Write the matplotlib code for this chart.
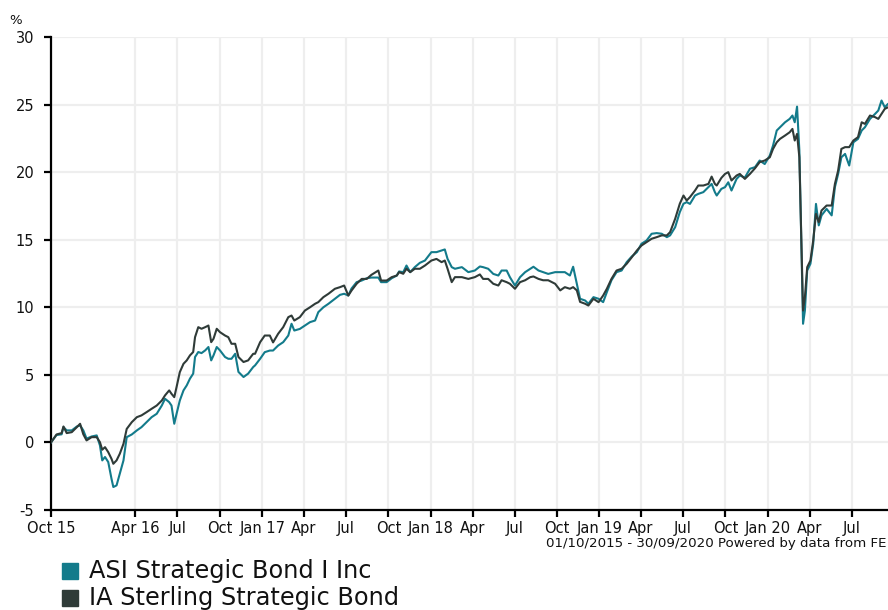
import matplotlib
matplotlib.use("Agg")
import matplotlib.pyplot as plt
from matplotlib.patches import Rectangle
import pandas as pd

plt.rcParams['font.family'] = ['DejaVu Sans']

series_names = ["ASI Strategic Bond I Inc", "IA Sterling Strategic Bond"]

dates = [
    "2015-10-01", "2015-10-13", "2015-10-24", "2015-10-28", "2015-11-04", "2015-11-15",
    "2015-11-26", "2015-12-03", "2015-12-10", "2015-12-17", "2015-12-28", "2016-01-08",
    "2016-01-15", "2016-01-20", "2016-01-26", "2016-02-02", "2016-02-09", "2016-02-13",
    "2016-02-20", "2016-02-27", "2016-03-06", "2016-03-13", "2016-03-24", "2016-04-04",
    "2016-04-14", "2016-04-25", "2016-05-06", "2016-05-17", "2016-05-28", "2016-06-04",
    "2016-06-13", "2016-06-18", "2016-06-24", "2016-06-29", "2016-07-06", "2016-07-14",
    "2016-07-21", "2016-07-28", "2016-08-04", "2016-08-08", "2016-08-15", "2016-08-22",
    "2016-08-30", "2016-09-06", "2016-09-12", "2016-09-17", "2016-09-24", "2016-10-01",
    "2016-10-12", "2016-10-19", "2016-10-26", "2016-11-03", "2016-11-10", "2016-11-21",
    "2016-12-01", "2016-12-12",
    "2016-12-16", "2016-12-27", "2017-01-06", "2017-01-17", "2017-01-24", "2017-02-04",
    "2017-02-15", "2017-02-26", "2017-03-05", "2017-03-11", "2017-03-23", "2017-04-03",
    "2017-04-14", "2017-04-25", "2017-05-02", "2017-05-13", "2017-05-24", "2017-06-07",
    "2017-06-18", "2017-06-27", "2017-07-06", "2017-07-13", "2017-07-24", "2017-08-04",
    "2017-08-15", "2017-08-25", "2017-09-09", "2017-09-15", "2017-09-27", "2017-10-08",
    "2017-10-19", "2017-10-24", "2017-11-02", "2017-11-09", "2017-11-17", "2017-11-27",
    "2017-12-08", "2017-12-19", "2018-01-02", "2018-01-13", "2018-01-24", "2018-01-31",
    "2018-02-06", "2018-02-15", "2018-02-22", "2018-03-09", "2018-03-23",
    "2018-04-06", "2018-04-17", "2018-04-24", "2018-05-05", "2018-05-16", "2018-05-27",
    "2018-06-03", "2018-06-14", "2018-06-21", "2018-07-02", "2018-07-13", "2018-07-24",
    "2018-08-04", "2018-08-11", "2018-08-22", "2018-09-01", "2018-09-12", "2018-09-27",
    "2018-10-08", "2018-10-18", "2018-10-29", "2018-11-05", "2018-11-13", "2018-11-20",
    "2018-12-01", "2018-12-08", "2018-12-19", "2018-12-30", "2019-01-09", "2019-01-17",
    "2019-01-27", "2019-02-07", "2019-02-18", "2019-03-01", "2019-03-12", "2019-03-23",
    "2019-04-02", "2019-04-13", "2019-04-24", "2019-05-05", "2019-05-16", "2019-05-27",
    "2019-06-03", "2019-06-14", "2019-06-24", "2019-07-02", "2019-07-09",
    "2019-07-16", "2019-07-27", "2019-08-03", "2019-08-14", "2019-08-25", "2019-09-01",
    "2019-09-08", "2019-09-12", "2019-09-22", "2019-09-30", "2019-10-07", "2019-10-14",
    "2019-10-25", "2019-11-01", "2019-11-12", "2019-11-23", "2019-12-04", "2019-12-14",
    "2019-12-25", "2020-01-05", "2020-01-12", "2020-01-20", "2020-01-27", "2020-02-07",
    "2020-02-17", "2020-02-23", "2020-02-28", "2020-03-04", "2020-03-09", "2020-03-17",
    "2020-03-21", "2020-03-26", "2020-04-02", "2020-04-08", "2020-04-14", "2020-04-20",
    "2020-04-26", "2020-05-07", "2020-05-18", "2020-05-25", "2020-06-01", "2020-06-08",
    "2020-06-16", "2020-06-25", "2020-07-04", "2020-07-14", "2020-07-22", "2020-07-29",
    "2020-08-09", "2020-08-20", "2020-08-27", "2020-09-03", "2020-09-10", "2020-09-17",
    "2020-09-30",
]

ia_values = [
    0.00, 0.59, 0.69, 1.18, 0.69, 0.76,
    1.13, 1.38, 0.60, 0.15, 0.39, 0.39,
    0.02, -0.54, -0.35, -0.72, -1.21, -1.58,
    -1.33, -0.84, -0.10, 1.00, 1.50, 1.87,
    2.00, 2.24, 2.49, 2.73, 3.10, 3.48,
    3.85, 3.60, 3.35, 4.10, 5.20, 5.82,
    6.07, 6.44, 6.69, 7.79, 8.53, 8.41,
    8.53, 8.65, 7.42, 7.67, 8.41, 8.16,
    7.91, 7.79, 7.30, 7.30, 6.32, 5.95,
    6.07, 6.56,
    6.56, 7.42, 7.91, 7.91, 7.40, 8.04,
    8.53, 9.27, 9.39, 9.02, 9.27, 9.76,
    10.00, 10.26, 10.38, 10.75, 11.00, 11.37,
    11.49, 11.61, 10.87, 11.24, 11.74, 12.10,
    12.10, 12.40, 12.72, 11.98, 11.98, 12.23,
    12.35, 12.60, 12.48, 12.85, 12.60, 12.85,
    12.85, 13.09, 13.46, 13.58, 13.34, 13.46,
    12.85, 11.86, 12.23, 12.23, 12.10,
    12.23, 12.43, 12.10, 12.10, 11.74, 11.61,
    12.00, 11.86, 11.74, 11.37, 11.86, 12.00,
    12.23, 12.28, 12.10, 12.00, 12.00, 11.74,
    11.25, 11.49, 11.37, 11.49, 11.25, 10.40,
    10.26, 10.13, 10.63, 10.38, 10.87, 11.37,
    12.10, 12.72, 12.85, 13.22, 13.70, 14.20,
    14.57, 14.82, 15.07, 15.19, 15.32, 15.32,
    15.56, 16.55, 17.66, 18.27, 17.90,
    18.15, 18.64, 19.01, 19.01, 19.13, 19.67,
    19.13, 19.01, 19.57, 19.87, 20.00, 19.38,
    19.75, 19.87, 19.50, 19.87, 20.29, 20.74,
    20.86, 21.10, 21.72, 22.21, 22.46, 22.71,
    22.95, 23.20, 22.34, 22.83, 21.10, 9.76,
    10.75, 12.97, 13.46, 14.94, 16.91, 16.30,
    17.16, 17.53, 17.53, 19.13, 20.12, 21.72,
    21.85, 21.85, 22.34, 22.59, 23.69, 23.57,
    24.19, 24.07, 23.94, 24.31, 24.68, 24.80,
    25.00,
]

asi_values = [
    0.00, 0.55, 0.60, 1.13, 0.89, 0.89,
    1.18, 1.26, 0.89, 0.28, 0.44, 0.52,
    -0.22, -1.33, -1.08, -1.45, -2.68, -3.30,
    -3.18, -2.32, -1.33, 0.39, 0.59, 0.89,
    1.13, 1.50, 1.87, 2.12, 2.73, 3.23,
    2.98, 2.73, 1.38, 2.12, 3.10, 3.85,
    4.22, 4.72, 5.09, 6.32, 6.69, 6.61,
    6.81, 7.06, 6.07, 6.44, 7.06, 6.81,
    6.32, 6.19, 6.19, 6.56, 5.22, 4.84,
    5.09, 5.58,
    5.70, 6.19, 6.68, 6.80, 6.80, 7.17,
    7.42, 7.91, 8.78, 8.28, 8.40, 8.65,
    8.90, 9.02, 9.64, 10.00, 10.26, 10.63,
    10.92, 11.00, 10.87, 11.39, 11.86, 11.98,
    12.15, 12.20, 12.20, 11.86, 11.86, 12.15,
    12.35, 12.65, 12.60, 13.09, 12.60, 12.97,
    13.29, 13.46, 14.08, 14.08, 14.20, 14.28,
    13.58, 12.97, 12.85, 12.97, 12.60,
    12.72, 13.02, 12.97, 12.85, 12.47, 12.35,
    12.72, 12.72, 12.23, 11.61, 12.23, 12.60,
    12.85, 13.00, 12.72, 12.60, 12.47, 12.60,
    12.60, 12.60, 12.35, 13.00, 11.74, 10.63,
    10.50, 10.26, 10.75, 10.63, 10.38, 11.12,
    12.00, 12.60, 12.72, 13.34, 13.76, 14.08,
    14.70, 14.94, 15.44, 15.49, 15.44, 15.19,
    15.32, 15.93, 17.04, 17.66, 17.78,
    17.65, 18.27, 18.39, 18.52, 18.89, 19.13,
    18.52, 18.27, 18.76, 18.89, 19.25, 18.64,
    19.50, 19.75, 19.60, 20.25, 20.37, 20.86,
    20.60, 21.23, 21.97, 23.08, 23.32, 23.69,
    23.94, 24.19, 23.69, 24.85, 21.60, 8.78,
    9.76, 12.72, 13.22, 14.69, 17.65, 16.06,
    16.80, 17.28, 16.80, 18.89, 19.87, 21.10,
    21.35, 20.49, 22.21, 22.46, 23.08, 23.32,
    23.94, 24.31, 24.56, 25.30, 24.80, 25.05,
    25.20,
]

tick_dates = ["2015-10-01", "2016-04-01", "2016-07-01", "2016-10-01", "2017-01-01",
              "2017-04-01", "2017-07-01", "2017-10-01", "2018-01-01", "2018-04-01",
              "2018-07-01", "2018-10-01", "2019-01-01", "2019-04-01", "2019-07-01",
              "2019-10-01", "2020-01-01", "2020-04-01", "2020-07-01"]
tick_labels = ["Oct 15", "Apr 16", "Jul", "Oct", "Jan 17", "Apr", "Jul", "Oct",
               "Jan 18", "Apr", "Jul", "Oct", "Jan 19", "Apr", "Jul", "Oct",
               "Jan 20", "Apr", "Jul"]
y_ticks = [-5, 0, 5, 10, 15, 20, 25, 30]

footer = "01/10/2015 - 30/09/2020 Powered by data from FE"

colors = ["#137b8b", "#2f3b38"]

W, H = 888, 610
fig = plt.figure(figsize=(W / 100, H / 100), dpi=100)
ax = fig.add_axes([51 / W, (H - 510) / H, (894 - 51) / W, (510 - 37) / H])

x = pd.to_datetime(dates)
ax.plot(x, asi_values, color=colors[0], lw=1.5, zorder=3, solid_joinstyle="round")
ax.plot(x, ia_values, color=colors[1], lw=1.5, zorder=4, solid_joinstyle="round")

ax.set_xlim(pd.Timestamp("2015-10-01"), pd.Timestamp("2020-09-30"))
ax.set_ylim(-5, 30)
ax.set_xticks(pd.to_datetime(tick_dates))
ax.set_xticklabels(tick_labels)
ax.set_yticks(y_ticks)
ax.set_yticklabels([str(v) for v in y_ticks])

ax.grid(True, color="#eeeeee", lw=1.6, zorder=0)
ax.set_axisbelow(True)
for s in ["top", "right"]:
    ax.spines[s].set_visible(False)
for s in ["left", "bottom"]:
    ax.spines[s].set_color("black")
    ax.spines[s].set_linewidth(1.6)
ax.tick_params(axis="both", direction="out", length=5, width=1.6, color="black",
               labelsize=10.5, labelcolor="#111111")
ax.tick_params(axis="y", pad=7)
ax.tick_params(axis="x", pad=3)

fig.text(16 / W, 1 - 20 / H, "%", ha="center", va="center", fontsize=9.5, color="#111111")
fig.text(886 / W, 1 - 544 / H, footer, ha="right", va="center", fontsize=9.6, color="#111111")

for i, name in enumerate(series_names):
    yc = 571 + i * 27
    fig.patches.append(Rectangle((62 / W, 1 - (yc + 8) / H), 16 / W, 16 / H,
                                 transform=fig.transFigure, color=colors[i]))
    fig.text(89 / W, 1 - yc / H, name, ha="left", va="center", fontsize=17.3, color="#111111")

fig.savefig("out.png", dpi=100)
